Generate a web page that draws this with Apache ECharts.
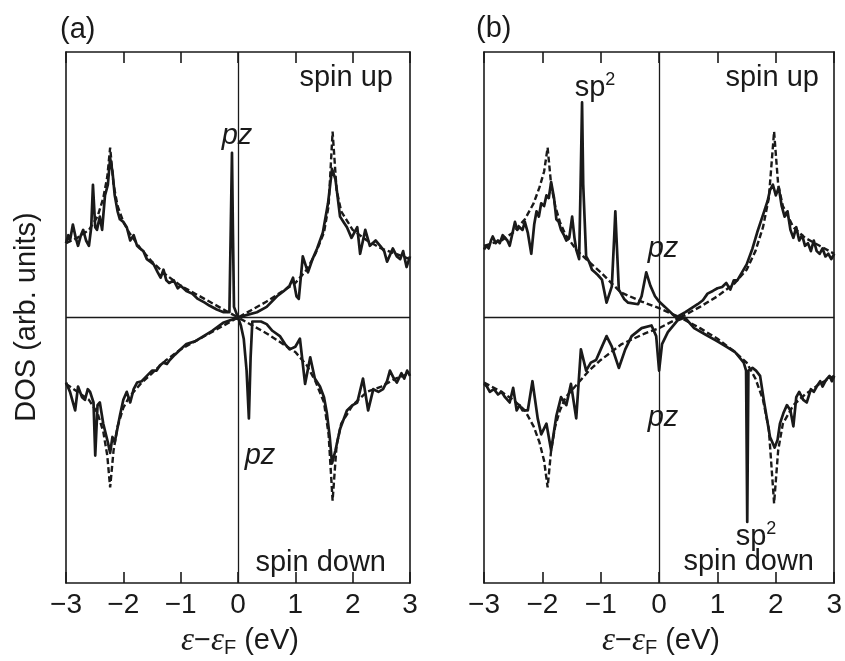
<!DOCTYPE html>
<html>
<head>
<meta charset="utf-8">
<script src="https://cdn.jsdelivr.net/npm/echarts@6/dist/echarts.min.js"></script>
<style>
html,body{margin:0;padding:0;background:#fff;}
#chart{width:845px;height:661px;}
</style>
</head>
<body>
<div id="chart"></div>
<script>
// ---- data (energy in eV, DOS in arbitrary units) ----
var xTicks = [-3, -2, -1, 0, 1, 2, 3];

// panel (a)
var aUpDash = [[-3,0.28],[-2.8,0.3],[-2.6,0.33],[-2.45,0.38],[-2.35,0.45],[-2.28,0.53],[-2.23,0.64],[-2.17,0.5],[-2.1,0.42],[-2.0,0.36],[-1.9,0.32],[-1.7,0.26],[-1.5,0.21],[-1.25,0.16],[-1,0.12],[-0.5,0.06],[0,0],[0.5,0.06],[1,0.13],[1.2,0.18],[1.35,0.24],[1.5,0.32],[1.58,0.42],[1.65,0.70],[1.72,0.48],[1.8,0.4],[2,0.33],[2.25,0.29],[2.5,0.26],[2.75,0.24],[3,0.22]];
var aDownDash = [[-3,-0.25],[-2.8,-0.28],[-2.6,-0.31],[-2.45,-0.36],[-2.35,-0.43],[-2.28,-0.52],[-2.23,-0.64],[-2.17,-0.5],[-2.1,-0.41],[-2.0,-0.34],[-1.9,-0.3],[-1.7,-0.25],[-1.5,-0.21],[-1.25,-0.16],[-1,-0.12],[-0.5,-0.06],[0,0],[0.5,-0.06],[1,-0.13],[1.2,-0.18],[1.35,-0.24],[1.5,-0.32],[1.58,-0.44],[1.65,-0.69],[1.72,-0.48],[1.8,-0.4],[2,-0.33],[2.25,-0.28],[2.5,-0.26],[2.75,-0.23],[3,-0.21]];
var aUpSolid = [[-3,0.28],[-2.96,0.31],[-2.93,0.29],[-2.88,0.35],[-2.83,0.3],[-2.79,0.27],[-2.74,0.31],[-2.70,0.33],[-2.65,0.29],[-2.60,0.27],[-2.56,0.34],[-2.53,0.50],[-2.49,0.34],[-2.46,0.33],[-2.41,0.38],[-2.37,0.33],[-2.32,0.46],[-2.27,0.5],[-2.23,0.60],[-2.19,0.55],[-2.15,0.46],[-2.1,0.4],[-2.06,0.37],[-2.0,0.36],[-1.94,0.34],[-1.88,0.29],[-1.82,0.31],[-1.76,0.27],[-1.71,0.26],[-1.65,0.25],[-1.59,0.22],[-1.53,0.21],[-1.47,0.2],[-1.4,0.17],[-1.35,0.15],[-1.3,0.18],[-1.25,0.14],[-1.2,0.13],[-1.12,0.14],[-1.05,0.11],[-1.0,0.12],[-0.9,0.10],[-0.8,0.09],[-0.7,0.07],[-0.58,0.056],[-0.5,0.045],[-0.37,0.03],[-0.25,0.02],[-0.15,0.02],[-0.125,0.35],[-0.105,0.62],[-0.09,0.35],[-0.07,0.04],[0,0],[0.16,0.01],[0.33,0.02],[0.5,0.04],[0.68,0.08],[0.8,0.1],[0.9,0.12],[0.96,0.15],[1.02,0.08],[1.06,0.07],[1.13,0.23],[1.22,0.17],[1.3,0.22],[1.38,0.26],[1.48,0.32],[1.57,0.43],[1.64,0.56],[1.7,0.52],[1.78,0.38],[1.84,0.36],[1.9,0.34],[1.98,0.3],[2.08,0.34],[2.13,0.24],[2.22,0.33],[2.3,0.27],[2.4,0.29],[2.48,0.27],[2.55,0.25],[2.6,0.21],[2.7,0.26],[2.77,0.23],[2.83,0.22],[2.88,0.25],[2.94,0.19],[3,0.23]];
var aDownSolid = [[-3,-0.245],[-2.93,-0.28],[-2.84,-0.35],[-2.79,-0.26],[-2.72,-0.3],[-2.67,-0.31],[-2.62,-0.27],[-2.58,-0.28],[-2.52,-0.32],[-2.49,-0.52],[-2.45,-0.33],[-2.41,-0.32],[-2.35,-0.4],[-2.27,-0.47],[-2.23,-0.51],[-2.19,-0.45],[-2.15,-0.47],[-2.06,-0.37],[-2.0,-0.31],[-1.94,-0.28],[-1.88,-0.32],[-1.82,-0.27],[-1.76,-0.245],[-1.68,-0.24],[-1.59,-0.22],[-1.5,-0.2],[-1.42,-0.2],[-1.36,-0.18],[-1.3,-0.17],[-1.24,-0.175],[-1.19,-0.16],[-1.1,-0.14],[-1.0,-0.12],[-0.9,-0.1],[-0.75,-0.09],[-0.6,-0.07],[-0.45,-0.05],[-0.26,-0.02],[0,0],[0.05,-0.03],[0.1,-0.08],[0.15,-0.2],[0.19,-0.38],[0.22,-0.15],[0.25,-0.015],[0.4,-0.015],[0.5,-0.025],[0.6,-0.05],[0.73,-0.07],[0.82,-0.1],[0.9,-0.12],[1.0,-0.11],[1.08,-0.08],[1.17,-0.25],[1.26,-0.15],[1.34,-0.23],[1.43,-0.26],[1.5,-0.3],[1.55,-0.36],[1.6,-0.45],[1.64,-0.55],[1.7,-0.5],[1.78,-0.42],[1.9,-0.35],[2.0,-0.33],[2.08,-0.32],[2.18,-0.23],[2.27,-0.35],[2.36,-0.27],[2.45,-0.28],[2.53,-0.27],[2.6,-0.24],[2.65,-0.2],[2.72,-0.23],[2.77,-0.245],[2.85,-0.21],[2.9,-0.23],[2.95,-0.2],[3,-0.22]];

// panel (b)
var bUpDash = [[-3,0.27],[-2.7,0.29],[-2.5,0.32],[-2.3,0.37],[-2.15,0.43],[-2.05,0.49],[-1.97,0.55],[-1.91,0.64],[-1.85,0.5],[-1.78,0.42],[-1.7,0.36],[-1.6,0.31],[-1.4,0.25],[-1.2,0.21],[-1.0,0.17],[-0.66,0.095],[-0.3,0.06],[0,0.035],[0.36,0],[0.7,0.04],[1,0.08],[1.3,0.13],[1.5,0.18],[1.65,0.25],[1.78,0.34],[1.88,0.45],[1.97,0.70],[2.04,0.5],[2.12,0.42],[2.3,0.34],[2.5,0.3],[2.75,0.27],[3,0.24]];
var bDownDash = [[-3,-0.245],[-2.7,-0.28],[-2.5,-0.31],[-2.3,-0.35],[-2.15,-0.41],[-2.05,-0.47],[-1.97,-0.54],[-1.91,-0.64],[-1.85,-0.5],[-1.78,-0.41],[-1.7,-0.35],[-1.6,-0.3],[-1.4,-0.25],[-1.2,-0.2],[-1.0,-0.16],[-0.64,-0.1],[-0.24,-0.06],[0,-0.04],[0.36,0],[0.7,-0.04],[1,-0.08],[1.3,-0.13],[1.5,-0.17],[1.65,-0.23],[1.78,-0.31],[1.88,-0.42],[1.97,-0.70],[2.04,-0.5],[2.12,-0.4],[2.3,-0.33],[2.5,-0.29],[2.75,-0.25],[3,-0.22]];
var bUpSolid = [[-3,0.256],[-2.96,0.27],[-2.92,0.26],[-2.88,0.29],[-2.85,0.305],[-2.8,0.28],[-2.76,0.29],[-2.73,0.28],[-2.68,0.31],[-2.64,0.3],[-2.6,0.29],[-2.56,0.27],[-2.52,0.31],[-2.47,0.36],[-2.43,0.33],[-2.39,0.34],[-2.34,0.33],[-2.3,0.36],[-2.25,0.32],[-2.19,0.24],[-2.14,0.35],[-2.1,0.40],[-2.06,0.38],[-2.02,0.43],[-1.97,0.42],[-1.93,0.46],[-1.89,0.45],[-1.85,0.51],[-1.8,0.45],[-1.76,0.37],[-1.72,0.36],[-1.68,0.33],[-1.63,0.31],[-1.59,0.29],[-1.54,0.3],[-1.49,0.38],[-1.45,0.3],[-1.42,0.256],[-1.37,0.22],[-1.345,0.5],[-1.32,0.81],[-1.3,0.5],[-1.25,0.23],[-1.2,0.21],[-1.15,0.18],[-1.1,0.17],[-1.05,0.16],[-0.98,0.143],[-0.9,0.056],[-0.81,0.117],[-0.77,0.3],[-0.75,0.40],[-0.73,0.3],[-0.69,0.105],[-0.6,0.07],[-0.53,0.056],[-0.36,0.05],[-0.3,0.08],[-0.22,0.17],[-0.15,0.12],[-0.07,0.08],[0,0.06],[0.1,0.04],[0.29,0.0],[0.45,0.02],[0.66,0.05],[0.75,0.065],[0.83,0.09],[0.92,0.1],[1.0,0.11],[1.08,0.115],[1.15,0.13],[1.22,0.105],[1.28,0.14],[1.34,0.14],[1.42,0.17],[1.5,0.2],[1.6,0.26],[1.68,0.32],[1.74,0.36],[1.8,0.4],[1.86,0.44],[1.9,0.48],[1.95,0.5],[2.0,0.46],[2.05,0.49],[2.1,0.42],[2.15,0.38],[2.2,0.4],[2.25,0.33],[2.3,0.3],[2.35,0.34],[2.4,0.29],[2.45,0.31],[2.5,0.27],[2.55,0.28],[2.6,0.25],[2.65,0.29],[2.7,0.25],[2.75,0.24],[2.8,0.26],[2.85,0.23],[2.9,0.24],[2.95,0.22],[3,0.24]];
var bDownSolid = [[-3,-0.25],[-2.95,-0.26],[-2.9,-0.28],[-2.83,-0.27],[-2.76,-0.29],[-2.7,-0.28],[-2.64,-0.3],[-2.56,-0.32],[-2.5,-0.265],[-2.44,-0.35],[-2.39,-0.33],[-2.34,-0.35],[-2.25,-0.35],[-2.17,-0.24],[-2.08,-0.38],[-2.02,-0.44],[-1.93,-0.40],[-1.85,-0.5],[-1.76,-0.37],[-1.68,-0.3],[-1.59,-0.33],[-1.51,-0.25],[-1.42,-0.38],[-1.34,-0.12],[-1.25,-0.2],[-1.17,-0.17],[-1.08,-0.16],[-1.0,-0.12],[-0.9,-0.07],[-0.81,-0.11],[-0.69,-0.19],[-0.58,-0.12],[-0.47,-0.07],[-0.3,-0.04],[-0.13,-0.03],[-0.05,-0.07],[0,-0.2],[0.05,-0.1],[0.15,-0.055],[0.32,-0.01],[0.44,0.0],[0.6,-0.04],[0.8,-0.065],[1.0,-0.09],[1.15,-0.11],[1.3,-0.13],[1.45,-0.17],[1.49,-0.2],[1.51,-0.77],[1.53,-0.2],[1.6,-0.19],[1.66,-0.2],[1.73,-0.22],[1.8,-0.32],[1.9,-0.45],[1.98,-0.49],[2.03,-0.46],[2.07,-0.4],[2.13,-0.36],[2.19,-0.33],[2.25,-0.35],[2.3,-0.41],[2.35,-0.3],[2.4,-0.28],[2.47,-0.31],[2.53,-0.32],[2.6,-0.27],[2.65,-0.28],[2.7,-0.26],[2.76,-0.24],[2.8,-0.26],[2.86,-0.235],[2.92,-0.22],[2.96,-0.24],[3,-0.22]];

// ---- chart ----
var FONT = '"Liberation Sans", Arial, Helvetica, sans-serif';
var INK = '#1a1a1a';
var FS = 29;
var chart = echarts.init(document.getElementById('chart'), null, {renderer: 'canvas'});

function fmt(v) { return v < 0 ? '\u2212' + Math.abs(v) : String(v); }

function xAx(gi, pos) {
  return {
    type: 'value', gridIndex: gi, position: pos, min: xTicks[0], max: xTicks[xTicks.length - 1], interval: 1,
    axisLine: {show: true, onZero: false, lineStyle: {color: INK, width: 1.6}},
    axisTick: {show: true, inside: true, length: 11, lineStyle: {color: INK, width: 1.6}},
    axisLabel: {show: pos === 'bottom', formatter: fmt, fontFamily: FONT, fontSize: 28, color: INK, margin: 8,
                showMinLabel: true, showMaxLabel: true},
    splitLine: {show: false}
  };
}
function yAx(gi, pos) {
  return {
    type: 'value', gridIndex: gi, position: pos, min: -1, max: 1,
    axisLine: {show: true, onZero: false, lineStyle: {color: INK, width: 1.6}},
    axisTick: {show: false}, axisLabel: {show: false}, splitLine: {show: false}
  };
}
function solid(data, xi, yi) {
  return {type: 'line', data: data, xAxisIndex: xi, yAxisIndex: yi, showSymbol: false, symbol: 'none',
          lineStyle: {color: INK, width: 2.7, join: 'round'}, z: 3, silent: true};
}
function dashed(data, xi, yi) {
  return {type: 'line', data: data, xAxisIndex: xi, yAxisIndex: yi, showSymbol: false, symbol: 'none',
          lineStyle: {color: INK, width: 2.4, type: [6, 3]}, z: 2, silent: true};
}
function zeroLines(xi, yi) {
  return {type: 'line', data: [], xAxisIndex: xi, yAxisIndex: yi, silent: true,
          markLine: {silent: true, symbol: ['none', 'none'], label: {show: false}, animation: false,
                     lineStyle: {color: INK, width: 1.3, type: 'solid'},
                     data: [{xAxis: 0}, {yAxis: 0}]}};
}

var txt = function (t, x, y, align, extra) {
  var s = {text: t, x: x, y: y, align: align || 'center', verticalAlign: 'middle', fill: INK,
           font: FS + 'px ' + FONT};
  if (extra) for (var k in extra) s[k] = extra[k];
  return {type: 'text', z: 10, style: s};
};
var richSp = {sup: {fontSize: 18, fontFamily: FONT, fill: INK, padding: [0, 0, 15, 0]},
              n: {fontSize: FS, fontFamily: FONT, fill: INK}};
var richX = {e: {fontSize: 33, fontFamily: '"Liberation Serif", serif', fontStyle: 'italic', fill: INK},
             n: {fontSize: 29, fontFamily: FONT, fill: INK},
             sub: {fontSize: 20, fontFamily: FONT, fill: INK, padding: [15, 0, 0, 0]}};
var xTitle = '{e|\u03b5}{n|\u2212}{e|\u03b5}{sub|F}{n| (eV)}';
var pzFont = 'italic ' + FS + 'px ' + FONT;

var option = {
  animation: false,
  backgroundColor: '#ffffff',
  grid: [
    {left: 66, top: 52, width: 344, height: 531, show: false},
    {left: 484, top: 52, width: 354, height: 531, show: false}
  ],
  xAxis: [xAx(0, 'bottom'), xAx(0, 'top'), xAx(1, 'bottom'), xAx(1, 'top')],
  yAxis: [yAx(0, 'left'), yAx(0, 'right'), yAx(1, 'left'), yAx(1, 'right')],
  series: [
    zeroLines(0, 0), zeroLines(2, 2),
    dashed(aUpDash, 0, 0), dashed(aDownDash, 0, 0),
    solid(aUpSolid, 0, 0), solid(aDownSolid, 0, 0),
    dashed(bUpDash, 2, 2), dashed(bDownDash, 2, 2),
    solid(bUpSolid, 2, 2), solid(bDownSolid, 2, 2)
  ],
  graphic: [
    txt('(a)', 60, 30, 'left'),
    txt('(b)', 476, 29, 'left'),
    txt('spin up', 393, 78, 'right'),
    txt('spin down', 386, 563, 'right'),
    txt('spin up', 819, 78, 'right'),
    txt('spin down', 814, 562, 'right'),
    txt('pz', 237, 136, 'center', {font: pzFont}),
    txt('pz', 260, 456, 'center', {font: pzFont}),
    txt('pz', 663, 249, 'center', {font: pzFont}),
    txt('pz', 663, 418, 'center', {font: pzFont}),
    txt('{n|sp}{sup|2}', 595, 88, 'center', {rich: richSp}),
    txt('{n|sp}{sup|2}', 756, 537, 'center', {rich: richSp}),
    {type: 'text', z: 10, x: 27, y: 317, rotation: Math.PI / 2,
     style: {text: 'DOS (arb. units)', x: 0, y: 0, align: 'center', verticalAlign: 'middle', fill: INK, font: FS + 'px ' + FONT}},
    txt(xTitle, 240, 641, 'center', {rich: richX}),
    txt(xTitle, 661, 641, 'center', {rich: richX})
  ]
};
chart.setOption(option);
</script>
</body>
</html>
